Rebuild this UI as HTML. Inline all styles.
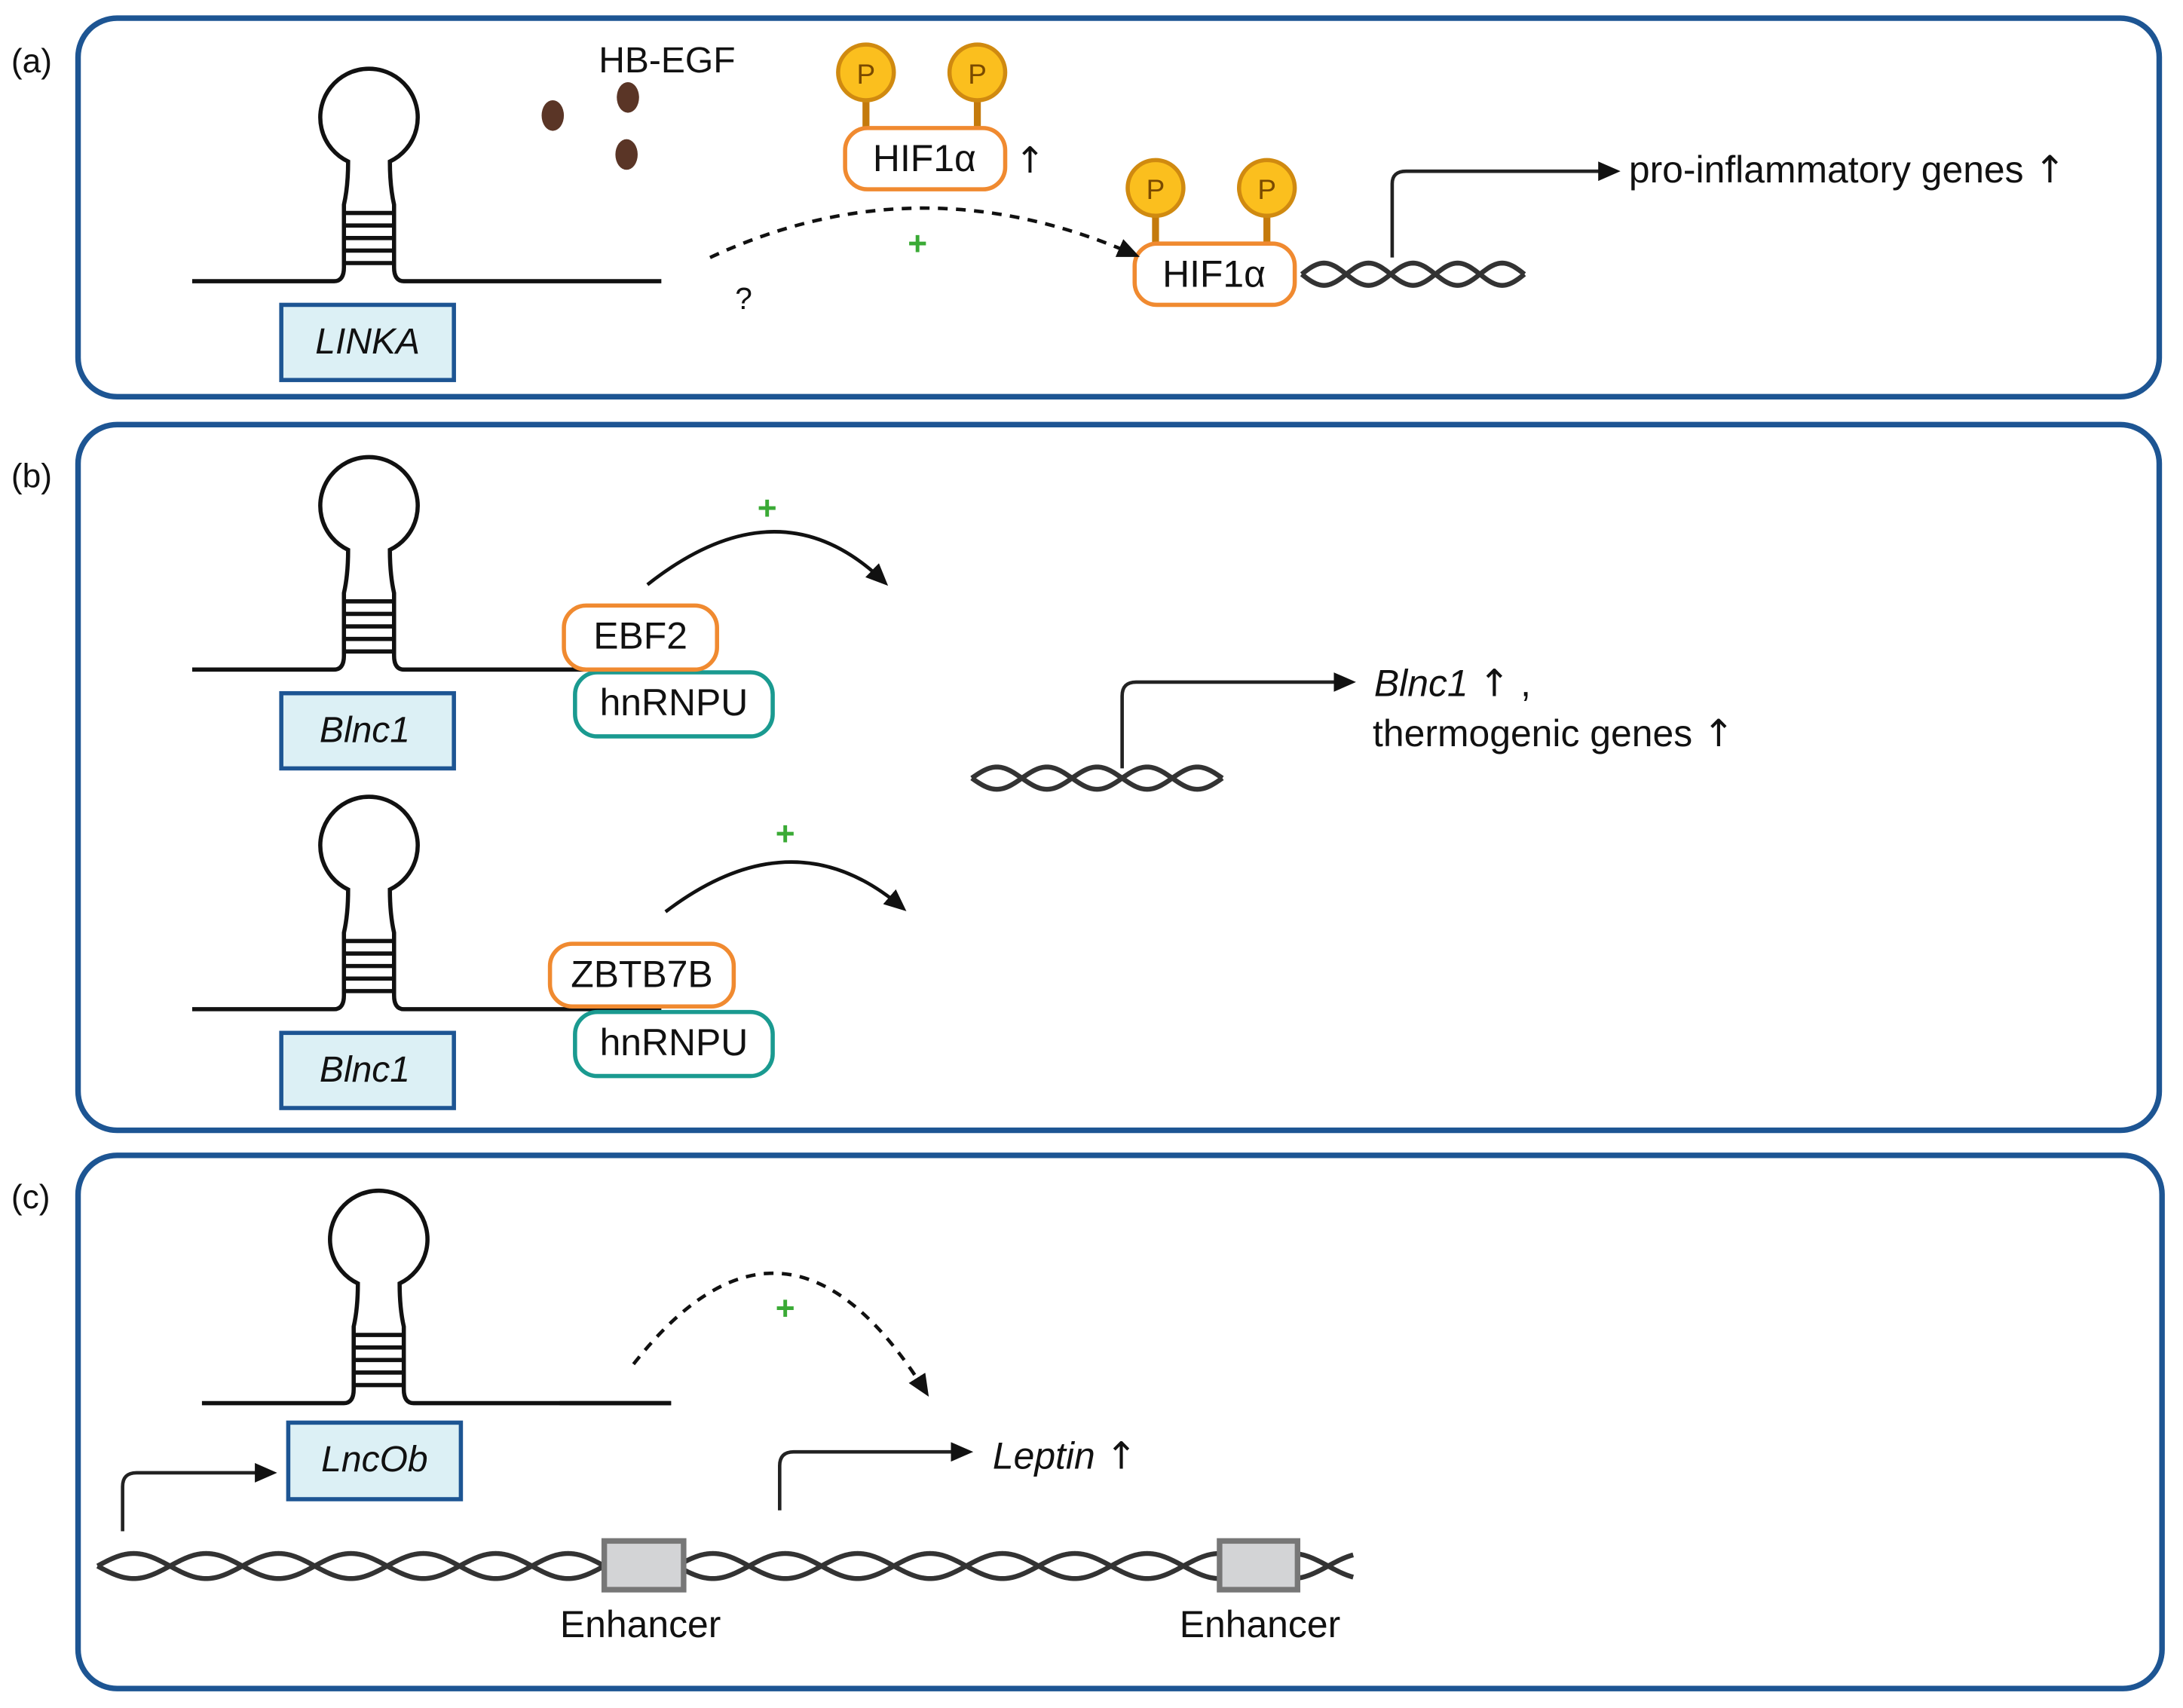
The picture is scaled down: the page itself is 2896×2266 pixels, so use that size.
<!DOCTYPE html>
<html><head><meta charset="utf-8"><style>
html,body{margin:0;padding:0;background:#fff;}
svg{display:block;}
text{font-family:"Liberation Sans","DejaVu Sans",sans-serif;fill:#111;}
.ar{font-family:"DejaVu Sans",sans-serif;}
</style></head><body>
<svg id="s" width="2896" height="2266" viewBox="0 0 1568 1227" xmlns="http://www.w3.org/2000/svg">
<defs>
<marker id="ah2" markerWidth="16" markerHeight="14" refX="12" refY="7" orient="auto" markerUnits="userSpaceOnUse"><path d="M0,0 L16,7 L0,14 Z" fill="#111"/></marker>
<g id="hp" fill="none" stroke="#111" stroke-width="3">
  <path d="M-127,0 H-25 Q-18,0 -18,-10 V-55 Q-15,-68 -15,-86 A35,35 0 1 1 15,-86 Q15,-68 18,-55 V-10 Q18,0 25,0 H210"/>
  <g stroke-width="3"><path d="M-18,-13 H18"/><path d="M-18,-22 H18"/><path d="M-18,-31 H18"/><path d="M-18,-40 H18"/><path d="M-18,-49 H18"/></g>
</g>
</defs>
<g fill="none" stroke="#1d5593" stroke-width="4">
<rect x="56" y="13" width="1495" height="272" rx="28"/>
<rect x="56" y="305" width="1495" height="507" rx="28"/>
<rect x="56" y="830" width="1497" height="383" rx="28"/>
</g>
<text x="8" y="52" font-size="24">(a)</text>
<text x="8" y="350" font-size="24">(b)</text>
<text x="8" y="868" font-size="24">(c)</text>

<!-- (a) -->
<use href="#hp" x="265" y="202"/>
<rect x="202" y="219" width="124" height="54" fill="#dcf0f5" stroke="#1d5593" stroke-width="3"/>
<text x="264" y="254" font-size="26" font-style="italic" text-anchor="middle">LINKA</text>
<text x="430" y="52" font-size="26">HB-EGF</text>
<g fill="#5a3526"><ellipse cx="397" cy="83" rx="8" ry="11"/><ellipse cx="451" cy="70" rx="8" ry="11"/><ellipse cx="450" cy="111" rx="8" ry="11"/></g>
<g id="hif1">
<path d="M622,60 V95 M702,60 V95" stroke="#c47a0c" stroke-width="5"/>
<circle cx="622" cy="52" r="20" fill="#fbbf1e" stroke="#d08a10" stroke-width="3"/>
<circle cx="702" cy="52" r="20" fill="#fbbf1e" stroke="#d08a10" stroke-width="3"/>
<text x="622" y="60" font-size="20" text-anchor="middle" style="fill:#7a4a00">P</text>
<text x="702" y="60" font-size="20" text-anchor="middle" style="fill:#7a4a00">P</text>
<rect x="607" y="92" width="115" height="44" rx="16" fill="#fff" stroke="#f08a30" stroke-width="3"/>
<text x="664" y="123" font-size="27" text-anchor="middle">HIF1α</text>
</g>
<text x="729" y="124" font-size="26" class="ar">↑</text>
<use href="#hif1" x="208" y="83"/>
<path d="M510,185 Q660,115 815,183" fill="none" stroke="#111" stroke-width="2.5" stroke-dasharray="7,6" marker-end="url(#ah2)"/>
<text x="659" y="183" font-size="24" text-anchor="middle" style="fill:#3aaa35;font-weight:bold">+</text>
<text x="528" y="222" font-size="22">?</text>
<g id="hx1"></g>
<path d="M1000,185 V132 Q1000,123 1010,123 H1160" fill="none" stroke="#222" stroke-width="2.5" marker-end="url(#ah2)"/>
<text x="1170" y="131" font-size="27">pro-inflammatory genes <tspan class="ar">↑</tspan></text>

<!-- (b) -->
<use href="#hp" x="265" y="481"/>
<rect x="202" y="498" width="124" height="54" fill="#dcf0f5" stroke="#1d5593" stroke-width="3"/>
<text x="262" y="533" font-size="26" font-style="italic" text-anchor="middle">Blnc1</text>
<rect x="413" y="483" width="142" height="46" rx="16" fill="#fff" stroke="#1a9a90" stroke-width="3"/>
<text x="484" y="514" font-size="27" text-anchor="middle">hnRNPU</text>
<rect x="405" y="435" width="110" height="46" rx="16" fill="#fff" stroke="#f08a30" stroke-width="3"/>
<text x="460" y="466" font-size="27" text-anchor="middle">EBF2</text>
<path d="M465,420 Q560,345 635,418" fill="none" stroke="#111" stroke-width="2.5" marker-end="url(#ah2)"/>
<text x="551" y="373" font-size="24" text-anchor="middle" style="fill:#3aaa35;font-weight:bold">+</text>

<use href="#hp" x="265" y="725"/>
<rect x="202" y="742" width="124" height="54" fill="#dcf0f5" stroke="#1d5593" stroke-width="3"/>
<text x="262" y="777" font-size="26" font-style="italic" text-anchor="middle">Blnc1</text>
<rect x="413" y="727" width="142" height="46" rx="16" fill="#fff" stroke="#1a9a90" stroke-width="3"/>
<text x="484" y="758" font-size="27" text-anchor="middle">hnRNPU</text>
<rect x="395" y="678" width="132" height="45" rx="16" fill="#fff" stroke="#f08a30" stroke-width="3"/>
<text x="461" y="709" font-size="27" text-anchor="middle">ZBTB7B</text>
<path d="M478,655 Q570,585 648,652" fill="none" stroke="#111" stroke-width="2.5" marker-end="url(#ah2)"/>
<text x="564" y="607" font-size="24" text-anchor="middle" style="fill:#3aaa35;font-weight:bold">+</text>

<g id="hx2"></g>
<path d="M806,552 V500 Q806,490 816,490 H970" fill="none" stroke="#222" stroke-width="2.5" marker-end="url(#ah2)"/>
<text x="987" y="500" font-size="27"><tspan font-style="italic">Blnc1</tspan> <tspan class="ar">↑</tspan> ,</text>
<text x="986" y="536" font-size="27">thermogenic genes <tspan class="ar">↑</tspan></text>

<!-- (c) -->
<use href="#hp" x="272" y="1008"/>
<path d="M402,1008 H482" stroke="#111" stroke-width="3"/>
<rect x="207" y="1022" width="124" height="55" fill="#dcf0f5" stroke="#1d5593" stroke-width="3"/>
<text x="269" y="1057" font-size="26" font-style="italic" text-anchor="middle">LncOb</text>
<path d="M88,1100 V1068 Q88,1058 98,1058 H195" fill="none" stroke="#222" stroke-width="2.5" marker-end="url(#ah2)"/>
<path d="M455,980 Q565,840 665,1000" fill="none" stroke="#111" stroke-width="2.5" stroke-dasharray="7,6" marker-end="url(#ah2)"/>
<text x="564" y="948" font-size="24" text-anchor="middle" style="fill:#3aaa35;font-weight:bold">+</text>
<path d="M560,1085 V1053 Q560,1043 570,1043 H695" fill="none" stroke="#222" stroke-width="2.5" marker-end="url(#ah2)"/>
<text x="713" y="1055" font-size="27"><tspan font-style="italic">Leptin</tspan> <tspan class="ar">↑</tspan></text>
<g id="hx3"></g>
<rect x="434" y="1107" width="57" height="35" fill="#d3d4d6" stroke="#777" stroke-width="4"/>
<rect x="876" y="1107" width="56" height="35" fill="#d3d4d6" stroke="#777" stroke-width="4"/>
<text x="460" y="1176" font-size="27" text-anchor="middle">Enhancer</text>
<text x="905" y="1176" font-size="27" text-anchor="middle">Enhancer</text>
</svg>
<script>
function helix(id,x0,x1,y,per,amp){
  var g=document.getElementById(id),ns="http://www.w3.org/2000/svg";
  [0,Math.PI].forEach(function(ph){
    var d="";
    for(var x=x0;x<=x1;x+=1){var yy=y+amp*Math.sin((x-x0)/per*2*Math.PI+ph);d+=(x==x0?"M":"L")+x+","+yy.toFixed(2);}
    var p=document.createElementNS(ns,"path");p.setAttribute("d",d);p.setAttribute("fill","none");p.setAttribute("stroke","#333");p.setAttribute("stroke-width","3.5");g.appendChild(p);
  });
}
helix("hx1",935,1095,197,64,8);
helix("hx2",698,878,559,72,8);
helix("hx3",70,972,1125,104,9);
</script>
</body></html>
